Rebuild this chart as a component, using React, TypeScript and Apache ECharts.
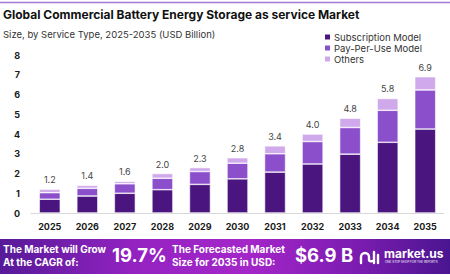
import React, { useEffect, useRef } from "react";
import * as echarts from "echarts";

const years = ["2025", "2026", "2027", "2028", "2029", "2030", "2031", "2032", "2033", "2034", "2035"];
const subscription = [0.7, 0.86, 1.0, 1.18, 1.45, 1.73, 2.07, 2.48, 2.98, 3.58, 4.25];
const payPerUse = [0.33, 0.39, 0.48, 0.58, 0.65, 0.79, 0.93, 1.14, 1.35, 1.62, 1.98];
const others = [0.17, 0.15, 0.12, 0.24, 0.2, 0.28, 0.4, 0.38, 0.47, 0.6, 0.67];
const totals = [1.2, 1.4, 1.6, 2.0, 2.3, 2.8, 3.4, 4.0, 4.8, 5.8, 6.9];
const seriesNames = ["Subscription Model", "Pay-Per-Use Model", "Others"];
const colors = ["#4b1580", "#8b4fcc", "#d0a8ec"];

const FONT = "Inter, 'Noto Sans', sans-serif";

// market.us mark: an arch with a curled tail, then two upright strokes
echarts.graphic.registerShape(
  "logo",
  echarts.graphic.extendPath("M1 12 L1 6 A4 4 0 0 1 9 6 L9 9 A2 2 0 0 0 12 10 M14 1 L14 12 M18 4 L18 12", {})
);

export default function App() {
  const ref = useRef<HTMLDivElement>(null);

  useEffect(() => {
    if (!ref.current) return;
    const chart = echarts.init(ref.current, null, { renderer: "svg" });

    const stackSeries = [subscription, payPerUse, others].map((data, i) => ({
      name: seriesNames[i],
      type: "bar" as const,
      stack: "total",
      data,
      barWidth: "56%",
      itemStyle: { color: colors[i], borderColor: "#ffffff", borderWidth: 0.6 },
      label:
        i === 2
          ? {
              show: true,
              position: "top" as const,
              distance: 5,
              color: "#444444",
              fontSize: 9,
              fontFamily: FONT,
              formatter: (p: any) => totals[p.dataIndex].toFixed(1),
            }
          : { show: false },
    }));

    chart.setOption({
      animation: false,
      grid: { left: 31, right: 6, top: 55, bottom: 67 },
      xAxis: {
        type: "category",
        data: years,
        axisLine: { show: true, lineStyle: { color: "#d8d8d8", width: 1 } },
        axisTick: { show: false },
        axisLabel: { color: "#1a1a1a", fontWeight: "bold", fontSize: 9, fontFamily: FONT, margin: 9 },
      },
      yAxis: {
        type: "value",
        min: 0,
        max: 8,
        interval: 1,
        splitLine: { show: false },
        axisLine: { show: false },
        axisTick: { show: false },
        axisLabel: { color: "#1a1a1a", fontWeight: "bold", fontSize: 9, fontFamily: FONT, margin: 11 },
      },
      legend: {
        orient: "vertical",
        left: 318,
        top: 27,
        itemWidth: 7,
        itemHeight: 7,
        itemGap: 1,
        icon: "rect",
        textStyle: { fontSize: 9.5, color: "#333333", fontFamily: FONT, padding: [0, 0, 0, -2] },
        data: seriesNames,
      },
      series: stackSeries,
      graphic: [
        { type: "line", shape: { x1: 0, y1: 2.5, x2: 450, y2: 2.5 }, style: { stroke: "#a878d8", lineWidth: 1.5 } },
        {
          type: "text",
          left: 3,
          top: 8,
          style: { text: "Global Commercial Battery Energy Storage as service Market", fontSize: 12, fontWeight: "bold", fill: "#111111", fontFamily: FONT },
        },
        {
          type: "text",
          left: 3,
          top: 29,
          style: { text: "Size, by Service Type, 2025-2035 (USD Billion)", fontSize: 9.5, fill: "#333333", fontFamily: FONT },
        },
        {
          type: "rect",
          shape: { x: 0, y: 239, width: 450, height: 35 },
          style: {
            fill: new echarts.graphic.LinearGradient(0, 0, 1, 0, [
              { offset: 0, color: "#561a98" },
              { offset: 0.3, color: "#9422c2" },
              { offset: 0.55, color: "#a426c8" },
              { offset: 0.8, color: "#7a1cb0" },
              { offset: 1, color: "#4a1590" },
            ]),
          },
        },
        {
          type: "text",
          x: 3,
          y: 242,
          style: { text: "The Market will Grow\nAt the CAGR of:", fontSize: 10, lineHeight: 13, fontWeight: "bold", fill: "#ffffff", fontFamily: FONT },
        },
        {
          type: "text",
          x: 112,
          y: 245,
          style: { text: "19.7%", fontSize: 18.5, fontWeight: "bold", fill: "#ffffff", fontFamily: FONT },
        },
        {
          type: "text",
          x: 172,
          y: 242,
          style: { text: "The Forecasted Market\nSize for 2035 in USD:", fontSize: 10, lineHeight: 13, fontWeight: "bold", fill: "#ffffff", fontFamily: FONT },
        },
        {
          type: "text",
          x: 295,
          y: 245,
          style: { text: "$6.9 B", fontSize: 18.5, fontWeight: "bold", fill: "#ffffff", fontFamily: FONT },
        },
        {
          type: "logo",
          x: 360,
          y: 251,
          scaleX: 1,
          scaleY: 1,
          style: { fill: "none", stroke: "#ffffff", lineWidth: 2.4, lineCap: "round" },
        },
        {
          type: "text",
          x: 384,
          y: 247,
          style: { text: "market.us", fontSize: 12, fontWeight: "bold", fill: "#ffffff", fontFamily: FONT },
        },
        {
          type: "text",
          x: 385,
          y: 260,
          style: { text: "ONE STOP SHOP FOR THE REPORTS", fontSize: 3, fill: "#ffffff", fontFamily: FONT },
        },
      ],
    });

    return () => chart.dispose();
  }, []);

  return <div ref={ref} style={{ position: "absolute", left: 0, top: 0, width: 450, height: 280, background: "#ffffff" }} />;
}
